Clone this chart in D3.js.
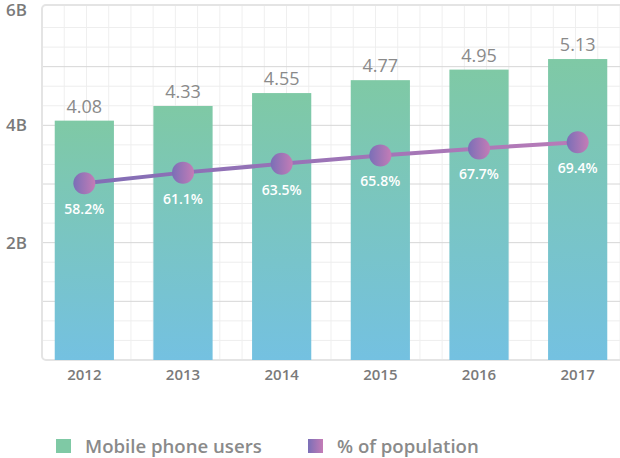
<!DOCTYPE html>
<html>
<head>
<meta charset="utf-8">
<script src="https://cdn.jsdelivr.net/npm/d3@7"></script>
<style>
    body { margin: 0; background: #fff; }
    svg { display: block; font-family: "Open Sans", sans-serif; }
</style>
</head>
<body>
<div id="chart"></div>
<script>
const width = 620
const height = 458

// data
const years = ["2012", "2013", "2014", "2015", "2016", "2017"]
const users = [4.08, 4.33, 4.55, 4.77, 4.95, 5.13]
const share = [58.2, 61.1, 63.5, 65.8, 67.7, 69.4]
const yTickValues = [2, 4, 6]
const yTickLabels = ["2B", "4B", "6B"]
const legendLabels = ["Mobile phone users", "% of population"]

const frame = { left: 42, top: 5, bottom: 360 }

const svg = d3.select("#chart")
    .append("svg")
    .attr("width", width)
    .attr("height", height)

const defs = svg.append("defs")
const barGrad = defs.append("linearGradient")
    .attr("id", "bar-grad")
    .attr("x1", 0).attr("y1", 0).attr("x2", 0).attr("y2", 1)
barGrad.append("stop").attr("offset", "0%").attr("stop-color", "#7fc9a5")
barGrad.append("stop").attr("offset", "100%").attr("stop-color", "#74c1e1")

const dotGrad = defs.append("linearGradient")
    .attr("id", "dot-grad")
    .attr("x1", 0).attr("y1", 0).attr("x2", 1).attr("y2", 0)
dotGrad.append("stop").attr("offset", "0%").attr("stop-color", "#7a6fb7")
dotGrad.append("stop").attr("offset", "100%").attr("stop-color", "#c47cb6")

const x = d3.scaleBand()
    .domain(years)
    .range([35, 627])
    .paddingInner(0.4)
    .paddingOuter(0.2)

const y = d3.scaleLinear()
    .domain([0, 6])
    .range([frame.bottom, 8])

const yPct = d3.scaleLinear()
    .domain([10, 106])
    .range([frame.bottom, 8])

const gridX = d3.scaleLinear()
    .domain([0, 26])
    .range([frame.left, 620])

const lineGrad = defs.append("linearGradient")
    .attr("id", "line-grad")
    .attr("gradientUnits", "userSpaceOnUse")
    .attr("x1", x(years[0])).attr("y1", 0)
    .attr("x2", x(years[years.length - 1]) + x.bandwidth()).attr("y2", 0)
lineGrad.append("stop").attr("offset", "0%").attr("stop-color", "#7e6cb5")
lineGrad.append("stop").attr("offset", "100%").attr("stop-color", "#bb7cb8")

// background grid
const grid = svg.append("g")
grid.selectAll(".vgrid")
    .data(d3.range(1, 27))
    .join("line")
    .attr("x1", d => gridX(d))
    .attr("x2", d => gridX(d))
    .attr("y1", frame.top)
    .attr("y2", frame.bottom)
    .attr("stroke", "#efefef")
    .attr("stroke-width", 1)

grid.selectAll(".hminor")
    .data(d3.range(1, 18).filter(d => d % 3 != 0).map(d => d / 3))
    .join("line")
    .attr("x1", frame.left)
    .attr("x2", width)
    .attr("y1", d => y(d))
    .attr("y2", d => y(d))
    .attr("stroke", "#eeeeee")
    .attr("stroke-width", 1)

grid.selectAll(".hmajor")
    .data(d3.range(1, 6))
    .join("line")
    .attr("x1", frame.left - 1)
    .attr("x2", width)
    .attr("y1", d => y(d))
    .attr("y2", d => y(d))
    .attr("stroke", "#d6d6d6")
    .attr("stroke-width", 1)

svg.append("rect")
    .attr("x", frame.left)
    .attr("y", frame.top)
    .attr("width", 640)
    .attr("height", frame.bottom - frame.top)
    .attr("rx", 4)
    .attr("fill", "none")
    .attr("stroke", "#e4e4e4")
    .attr("stroke-width", 2)

// y labels
svg.selectAll(".ylabel")
    .data(yTickValues)
    .join("text")
    .attr("x", 6)
    .attr("y", d => Math.max(y(d), 10))
    .attr("dy", "0.36em")
    .attr("font-size", 17)
    .attr("font-weight", 600)
    .attr("fill", "#7a7a7a")
    .text((d, i) => yTickLabels[i])

// bars
svg.selectAll(".bar")
    .data(users)
    .join("rect")
    .attr("x", (d, i) => x(years[i]))
    .attr("y", d => y(d))
    .attr("width", x.bandwidth())
    .attr("height", d => frame.bottom - y(d))
    .attr("fill", "url(#bar-grad)")

svg.selectAll(".bar-value")
    .data(users)
    .join("text")
    .attr("x", (d, i) => x(years[i]) + x.bandwidth() / 2)
    .attr("y", d => y(d) - 8)
    .attr("text-anchor", "middle")
    .attr("font-size", 18)
    .attr("fill", "#8a8a8a")
    .text(d => d3.format(".2f")(d))

// x labels
svg.selectAll(".xlabel")
    .data(years)
    .join("text")
    .attr("x", d => x(d) + x.bandwidth() / 2)
    .attr("y", 380)
    .attr("text-anchor", "middle")
    .attr("font-size", 15)
    .attr("font-weight", 600)
    .attr("fill", "#7a7a7a")
    .text(d => d)

// share line
const line = d3.line()
    .x((d, i) => x(years[i]) + x.bandwidth() / 2)
    .y(d => yPct(d))

svg.append("path")
    .datum(share)
    .attr("d", line)
    .attr("fill", "none")
    .attr("stroke", "url(#line-grad)")
    .attr("stroke-width", 4)
    .attr("stroke-linecap", "round")

svg.selectAll(".dot")
    .data(share)
    .join("circle")
    .attr("cx", (d, i) => x(years[i]) + x.bandwidth() / 2)
    .attr("cy", d => yPct(d))
    .attr("r", 11)
    .attr("fill", "url(#dot-grad)")

svg.selectAll(".pct")
    .data(share)
    .join("text")
    .attr("x", (d, i) => x(years[i]) + x.bandwidth() / 2)
    .attr("y", d => yPct(d) + 31)
    .attr("text-anchor", "middle")
    .attr("font-size", 14)
    .attr("font-weight", 600)
    .attr("fill", "#ffffff")
    .text(d => d.toFixed(1) + "%")

// legend
const legend = svg.append("g")
const legendX = [56, 308]
legend.selectAll("rect")
    .data(legendLabels)
    .join("rect")
    .attr("x", (d, i) => legendX[i])
    .attr("y", 439)
    .attr("width", 15)
    .attr("height", 14)
    .attr("fill", (d, i) => i == 0 ? "#7fc9a5" : "url(#dot-grad)")
legend.selectAll("text")
    .data(legendLabels)
    .join("text")
    .attr("x", (d, i) => legendX[i] + 29)
    .attr("y", 453)
    .attr("font-size", 18.6)
    .attr("font-weight", 600)
    .attr("fill", "#8a8a8a")
    .text(d => d)
</script>
</body>
</html>
